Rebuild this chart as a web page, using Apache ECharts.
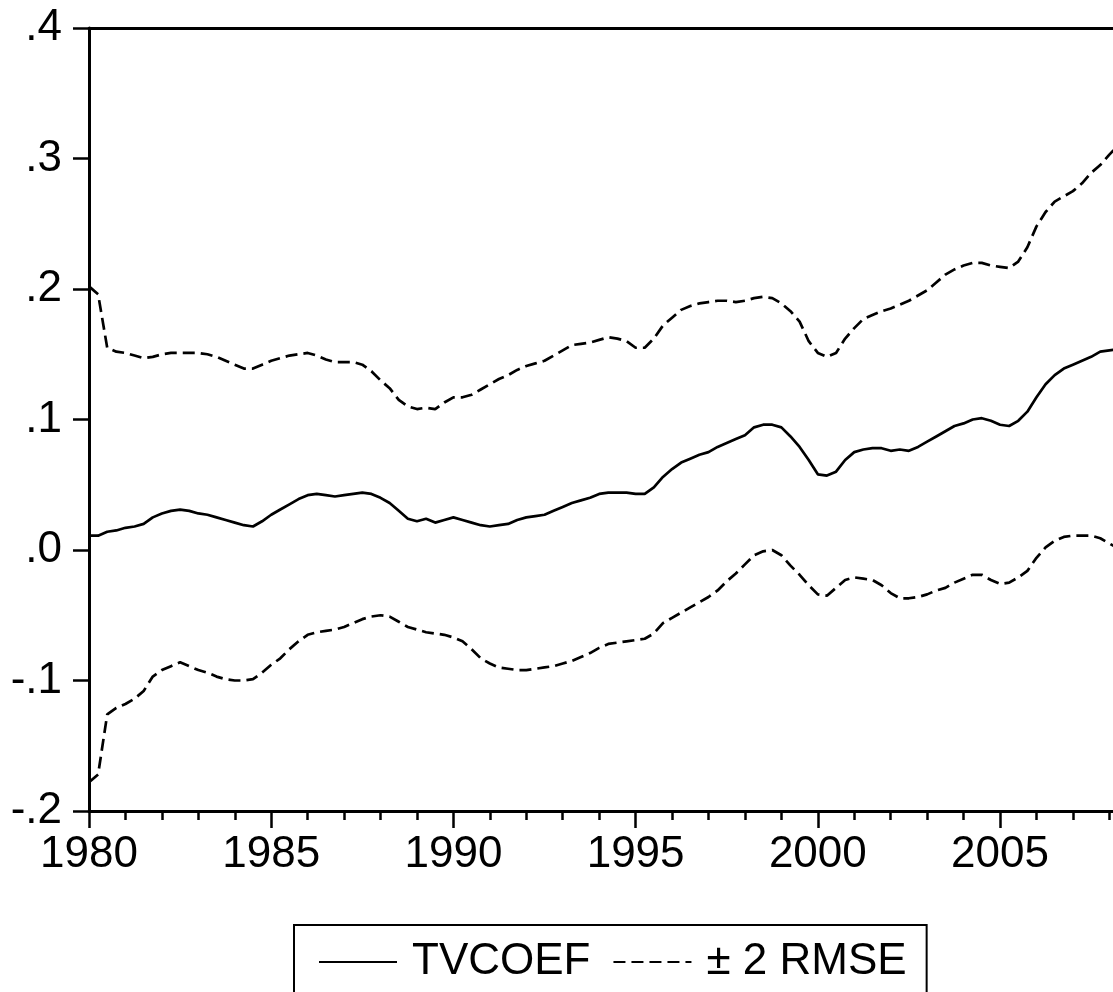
<!DOCTYPE html>
<html>
<head>
<meta charset="utf-8">
<script src="https://cdn.jsdelivr.net/npm/echarts@6/dist/echarts.min.js"></script>
<style>
html,body{margin:0;padding:0;background:#fff;overflow:hidden;}
#chart{width:1113px;height:992px;}
</style>
</head>
<body>
<div id="chart"></div>
<script>
// Quarterly observations starting 1980Q1
const startYear = 1980;
const tvcoef = [
0.011,0.011,0.014,0.015,0.017,0.018,0.020,0.025,0.028,0.030,
0.031,0.030,0.028,0.027,0.025,0.023,0.021,0.019,0.018,0.022,
0.027,0.031,0.035,0.039,0.042,0.043,0.042,0.041,0.042,0.043,
0.044,0.043,0.040,0.036,0.030,0.024,0.022,0.024,0.021,0.023,
0.025,0.023,0.021,0.019,0.018,0.019,0.020,0.023,0.025,0.026,
0.027,0.030,0.033,0.036,0.038,0.040,0.043,0.044,0.044,0.044,
0.043,0.043,0.048,0.056,0.062,0.067,0.070,0.073,0.075,0.079,
0.082,0.085,0.088,0.094,0.096,0.096,0.094,0.087,0.079,0.069,
0.058,0.057,0.060,0.069,0.075,0.077,0.078,0.078,0.076,0.077,
0.076,0.079,0.083,0.087,0.091,0.095,0.097,0.100,0.101,0.099,
0.096,0.095,0.099,0.106,0.117,0.127,0.134,0.139,0.142,0.145,
0.148,0.152,0.153,0.154
];
const upperBand = [
0.202,0.196,0.155,0.152,0.151,0.149,0.147,0.148,0.150,0.151,
0.151,0.151,0.151,0.150,0.148,0.145,0.142,0.139,0.139,0.142,
0.145,0.147,0.149,0.150,0.151,0.149,0.146,0.144,0.144,0.144,
0.142,0.137,0.130,0.124,0.115,0.110,0.108,0.109,0.108,0.113,
0.117,0.117,0.119,0.123,0.127,0.131,0.134,0.138,0.141,0.143,
0.145,0.149,0.153,0.157,0.158,0.159,0.161,0.163,0.162,0.160,
0.155,0.155,0.162,0.172,0.178,0.184,0.187,0.189,0.190,0.191,
0.191,0.190,0.191,0.193,0.194,0.193,0.189,0.183,0.175,0.160,
0.151,0.148,0.151,0.162,0.170,0.177,0.180,0.183,0.185,0.188,
0.191,0.195,0.199,0.205,0.211,0.215,0.218,0.220,0.220,0.218,
0.217,0.216,0.221,0.232,0.248,0.259,0.267,0.271,0.275,0.281,
0.289,0.295,0.303,0.310
];
const lowerBand = [
-0.178,-0.172,-0.126,-0.121,-0.118,-0.114,-0.108,-0.097,-0.092,-0.089,
-0.086,-0.089,-0.092,-0.094,-0.097,-0.099,-0.100,-0.100,-0.099,-0.094,
-0.088,-0.083,-0.076,-0.070,-0.065,-0.063,-0.062,-0.061,-0.059,-0.056,
-0.053,-0.051,-0.050,-0.051,-0.055,-0.059,-0.061,-0.063,-0.064,-0.065,
-0.067,-0.070,-0.076,-0.083,-0.087,-0.090,-0.091,-0.092,-0.092,-0.091,
-0.090,-0.089,-0.087,-0.085,-0.082,-0.079,-0.075,-0.072,-0.071,-0.070,
-0.069,-0.068,-0.064,-0.056,-0.052,-0.048,-0.044,-0.040,-0.036,-0.031,
-0.024,-0.018,-0.011,-0.004,-0.001,0.000,-0.004,-0.012,-0.019,-0.027,
-0.034,-0.035,-0.029,-0.023,-0.021,-0.022,-0.023,-0.027,-0.033,-0.037,
-0.037,-0.036,-0.034,-0.031,-0.029,-0.025,-0.022,-0.019,-0.019,-0.023,
-0.026,-0.025,-0.021,-0.016,-0.006,0.002,0.007,0.010,0.011,0.011,
0.011,0.009,0.005,0.001
];
const xLabelYears = [1980,1985,1990,1995,2000,2005];
const minorYears = [1981,1982,1983,1984,1986,1987,1988,1989,1991,1992,1993,1994,1996,1997,1998,1999,2001,2002,2003,2004,2006,2007,2008];
const yTicks = [-0.2,-0.1,0.0,0.1,0.2,0.3,0.4];
const legendNames = ['TVCOEF','± 2 RMSE'];

const toPairs = arr => arr.map((v,i) => [startYear + i/4, v]);
const FONT = '"Liberation Sans", Arial, Helvetica, sans-serif';
const X_MIN = 1980, X_MAX = 2008.1;

const chart = echarts.init(document.getElementById('chart'), null, {renderer:'canvas'});
chart.setOption({
  animation:false,
  backgroundColor:'#fff',
  grid:{left:89, top:28, right:0, bottom:181, show:false},
  xAxis:[{
    type:'value', min:X_MIN, max:X_MAX, position:'bottom',
    axisLine:{show:true, onZero:false, lineStyle:{color:'#000', width:3}},
    axisTick:{show:true, length:17, lineStyle:{color:'#000', width:2.5}, customValues:xLabelYears},
    axisLabel:{show:true, margin:22, color:'#000', fontSize:44, fontFamily:FONT, customValues:xLabelYears, formatter:v=>String(Math.round(v))},
    splitLine:{show:false}
  },{
    type:'value', min:X_MIN, max:X_MAX, position:'bottom',
    axisLine:{show:false, onZero:false},
    axisTick:{show:true, length:9, lineStyle:{color:'#000', width:2.5}, customValues:minorYears},
    axisLabel:{show:false},
    splitLine:{show:false}
  },{
    type:'value', min:X_MIN, max:X_MAX, position:'top',
    axisLine:{show:true, onZero:false, lineStyle:{color:'#000', width:3}},
    axisTick:{show:false},
    axisLabel:{show:false},
    splitLine:{show:false}
  }],
  yAxis:{
    type:'value', min:-0.2, max:0.4, interval:0.1,
    axisLine:{show:true, onZero:false, lineStyle:{color:'#000', width:3}},
    axisTick:{show:true, length:16, lineStyle:{color:'#000', width:2.5}},
    axisLabel:{show:true, margin:27, color:'#000', fontSize:44, fontFamily:FONT, customValues:yTicks,
      formatter:v=>Number(v).toFixed(1).replace(/^(-?)0\./,'$1.')},
    splitLine:{show:false}
  },
  legend:{
    data:legendNames, left:294, top:925, orient:'horizontal',
    itemWidth:78, itemHeight:16, itemGap:22,
    padding:[15,20,60,24], borderColor:'#000', borderWidth:2,
    itemStyle:{opacity:0},
    textStyle:{color:'#000', fontSize:44, fontFamily:FONT, padding:[0,0,0,10]},
    selectedMode:false
  },
  series:[
    {name:legendNames[0], type:'line', data:toPairs(tvcoef), symbol:'none', showSymbol:false,
     lineStyle:{color:'#000', width:2.7, type:'solid'}, itemStyle:{color:'#000'}},
    {name:legendNames[1], type:'line', data:toPairs(upperBand), symbol:'none', showSymbol:false,
     lineStyle:{color:'#000', width:2.7, type:[12,6]}, itemStyle:{color:'#000'}},
    {name:legendNames[1], type:'line', data:toPairs(lowerBand), symbol:'none', showSymbol:false,
     lineStyle:{color:'#000', width:2.7, type:[12,6]}, itemStyle:{color:'#000'}}
  ]
});
</script>
</body>
</html>
